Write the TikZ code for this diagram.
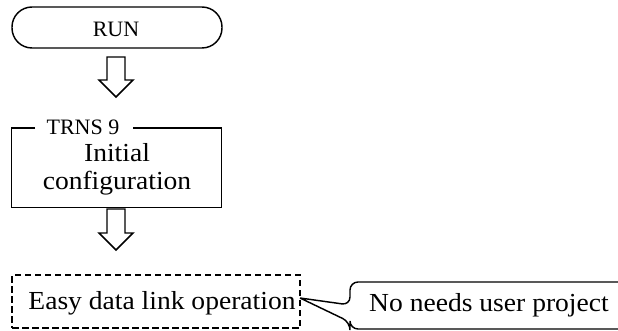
\documentclass[tikz,border=0pt]{standalone}
\usepackage{fontspec}
\setmainfont{Liberation Serif}
\newfontfamily\widefont{Liberation Serif}[FakeStretch=1.06]
\begin{document}
\begin{tikzpicture}[x=1pt,y=-1pt,
  line width=1.45pt,
  smalltext/.style={font=\fontsize{22}{24}\selectfont, inner sep=0pt},
  bigtext/.style={font=\widefont\fontsize{26}{28}\selectfont, inner sep=0pt, align=center},
  runbox/.style={draw, rounded corners=20pt, minimum width=210pt, minimum height=41pt, inner sep=0pt},
  blockarrow/.style={draw, fill=white, line join=miter},
  dashbox/.style={draw, dash pattern=on 6.5pt off 3.5pt, minimum width=288pt, minimum height=53pt, inner sep=0pt}
]
\clip (0,0) rectangle (618,331);
\fill[white] (0,0) rectangle (618,331);

% RUN terminal
\node[runbox] (run) at (117,27.5) {};
\node[smalltext] (runtext) at (116,29) {RUN};

% hollow arrow 1
\draw[blockarrow] (107,57) -- (125,57) -- (125,80) -- (133,80) -- (116,97) -- (99,80) -- (107,80) -- cycle;

% TRNS 9 box
\node[minimum width=209pt, minimum height=79pt, inner sep=0pt] (cfg) at (116.5,167.5) {};
\draw (35,128) -| (cfg.south west) -- (cfg.south east) |- (133,128);
\node[smalltext] (trns) at (83,127) {TRNS 9};
\node[bigtext] (cfgtext) at (117,169) {Initial\\configuration};

% hollow arrow 2
\draw[blockarrow] (107,209) -- (125,209) -- (125,233) -- (133,233) -- (116,250) -- (99,233) -- (107,233) -- cycle;

% dashed box
\node[dashbox] (easy) at (156,301.5) {};
\node[bigtext] (easytext) at (162,303) {Easy data link operation};

% callout
\coordinate (tip) at (300,298);
\draw[rounded corners=8pt] (tip) -- (350,305) -- (350,282) -- (640,282) -- (640,329) -- (350,329) -- (350,322) -- (tip);
\node[bigtext] (note) at (489,305) {No needs user project};
\end{tikzpicture}
\end{document}
